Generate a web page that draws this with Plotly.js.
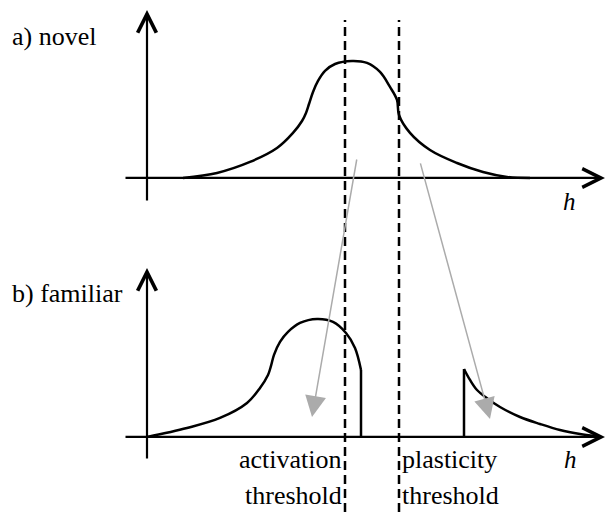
<!DOCTYPE html>
<html><head><meta charset="utf-8">
<script src="https://cdn.plot.ly/plotly-3.0.1.min.js"></script>
</head><body style="margin:0;background:#fff"><div id="chart"></div>
<script>
// Panel a) novel : activity vs h
const novelH = [0.36,0.70,1.03,1.30,1.46,1.55,1.59,1.62,1.66,1.71,1.78,1.88,2.05,2.20,2.33,2.43,2.50,2.52,2.63,2.83,3.10,3.36,3.60,3.83];
const novelY = [0,0.043,0.137,0.256,0.385,0.487,0.556,0.632,0.735,0.829,0.915,0.974,1.0,0.983,0.906,0.778,0.667,0.538,0.385,0.239,0.128,0.051,0.009,0];
// Panel b) familiar : low part (cut at activation side) and high part (after plasticity side)
const familiarLowH = [0,0.40,0.73,1.00,1.13,1.21,1.24,1.27,1.33,1.41,1.53,1.70,1.86,1.99,2.08,2.14];
const familiarLowY = [0,0.076,0.161,0.288,0.415,0.525,0.602,0.695,0.805,0.890,0.966,1.0,0.975,0.881,0.754,0.568];
const familiarHighH = [3.17,3.23,3.30,3.41,3.53,3.73,3.93,4.13,4.33,4.48];
const familiarHighY = [0.576,0.483,0.398,0.322,0.254,0.169,0.110,0.059,0.025,0.008];
// thresholds
const thresholdH = [1.98, 2.52];
const thresholdLabels = [["activation","threshold"],["plasticity","threshold"]];
// axis extents
const axisH = [-0.23, 4.58];
const axisYTop = [-0.205, 1.436];
const axisYBottom = [-0.195, 1.432];
// grey shift arrows (in panel b units)
const shiftFromH = [2.10, 2.73];
const shiftFromY = [2.364, 2.331];
const shiftToH = [1.65, 3.43];
const shiftToY = [0.169, 0.153];
const panelLabels = ["a) novel", "b) familiar"];
const axisLabel = "h";

const lw = 2.5;
const sm = 1.0;
const traces = [
  {x: novelH, y: novelY, mode:'lines', line:{color:'#000', width:lw, shape:'spline', smoothing:sm}, yaxis:'y'},
  {x: familiarLowH, y: familiarLowY, mode:'lines', line:{color:'#000', width:lw, shape:'spline', smoothing:sm}, yaxis:'y2'},
  {x: [familiarLowH[familiarLowH.length-1], familiarLowH[familiarLowH.length-1]], y:[0, familiarLowY[familiarLowY.length-1]], mode:'lines', line:{color:'#000', width:lw}, yaxis:'y2'},
  {x: familiarHighH, y: familiarHighY, mode:'lines', line:{color:'#000', width:lw, shape:'spline', smoothing:sm}, yaxis:'y2'},
  {x: [familiarHighH[0], familiarHighH[0]], y:[0, familiarHighY[0]], mode:'lines', line:{color:'#000', width:lw}, yaxis:'y2'}
];

function txt(text, x, y, xref, xanchor, xshift, size){
  return {x:x, y:y, xref:xref, yref:'paper', xanchor:xanchor, yanchor:'middle', xshift:xshift||0,
    text:text, showarrow:false, font:{family:'Liberation Serif', size:size||26, color:'#000'}};
}
const ann = [];
function axisArrow(x, y, ax, ay, yref){
  ann.push({x:x, y:y, ax:ax, ay:ay, xref:'x', yref:yref, axref:'x', ayref:yref, text:'', showarrow:true,
    arrowhead:5, arrowwidth:2.2, arrowsize:1.67, arrowcolor:'#000'});
}
axisArrow(axisH[1], 0, axisH[0], 0, 'y');
axisArrow(0, axisYTop[1], 0, axisYTop[0], 'y');
axisArrow(axisH[1], 0, axisH[0], 0, 'y2');
axisArrow(0, axisYBottom[1], 0, axisYBottom[0], 'y2');
for (let i=0;i<shiftFromH.length;i++){
  ann.push({x:shiftToH[i], y:shiftToY[i], ax:shiftFromH[i], ay:shiftFromY[i], xref:'x', yref:'y2', axref:'x', ayref:'y2',
    text:'', showarrow:true, arrowhead:2, arrowwidth:1.5, arrowsize:2.8, arrowcolor:'#ababab'});
}
ann.push(txt(panelLabels[0], 10/607, 0.9287, 'paper', 'left'));
ann.push(txt(panelLabels[1], 10/607, 0.4268, 'paper', 'left'));
ann.push(txt('<i>'+axisLabel+'</i>', 569/607, 0.6055, 'paper', 'center', 0, 25));
ann.push(txt('<i>'+axisLabel+'</i>', 570/607, 0.1016, 'paper', 'center', 0, 25));
ann.push(txt(thresholdLabels[0][0], thresholdH[0], 0.1035, 'x', 'right', -1));
ann.push(txt(thresholdLabels[0][1], thresholdH[0], 0.0332, 'x', 'right', -1));
ann.push(txt(thresholdLabels[1][0], thresholdH[1], 0.1035, 'x', 'left', 1));
ann.push(txt(thresholdLabels[1][1], thresholdH[1], 0.0332, 'x', 'left', 1));

const shapes = thresholdH.map(h => ({type:'line', xref:'x', yref:'paper', x0:h, x1:h, y0:0, y1:0.961,
  line:{color:'#000', width:2.5, dash:'9px,5px'}}));

const layout = {
  width:607, height:512, margin:{l:0,r:0,t:0,b:0},
  paper_bgcolor:'#fff', plot_bgcolor:'#fff', showlegend:false, hovermode:false,
  xaxis:{range:[-1.47,4.60], visible:false, fixedrange:true},
  yaxis:{range:[-2.855,1.521], visible:false, fixedrange:true},
  yaxis2:{range:[-0.636,3.703], visible:false, overlaying:'y', fixedrange:true},
  annotations:ann, shapes:shapes
};
Plotly.newPlot('chart', traces, layout, {staticPlot:true, displayModeBar:false});
</script></body></html>
